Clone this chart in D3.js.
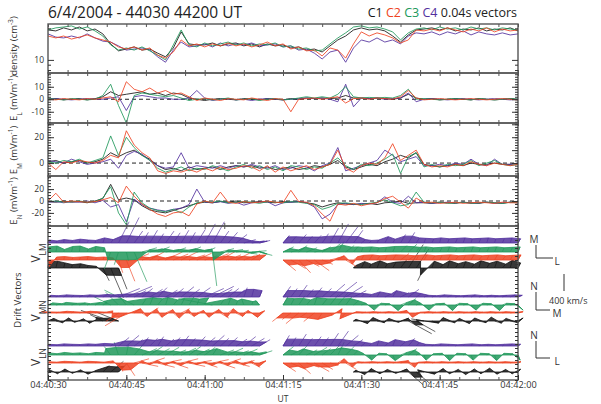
<!DOCTYPE html>
<html>
<head>
<meta charset="utf-8">
<script src="https://cdn.jsdelivr.net/npm/d3@7"></script>
<style>
  body { margin: 0; background: #fff; }
  svg { display: block; font-family: "Open Sans", sans-serif; }
</style>
</head>
<body>
<svg id="chart" width="601" height="404"></svg>
<script>
// seconds after 04:40:30 UT
const timeSec = [0,1.5,3,4.5,6,7.5,9,10.5,12,13.5,15,16.5,18,19.5,21,22.5,24,25.5,27,28.5,30,31.5,33,34.5,36,37.5,39,40.5,42,43.5,45,46.5,48,49.5,51,52.5,54,55.5,57,58.5,60,61.5,63,64.5,66,67.5,69,70.5,72,73.5,75,76.5,78,79.5,81,82.5,84,85.5,87,88.5,90];
const tickSec = [0, 15, 30, 45, 60, 75, 90];
const tickLabels = ['04:40:30', '04:40:45', '04:41:00', '04:41:15', '04:41:30', '04:41:45', '04:42:00'];

// density (cm^-3)
const densC1 = [19.3,18.9,20.2,19.3,20.6,18.9,19.7,17.7,14.2,12.2, 12.7,13.3,12.4,12.7,11.6,10.7,13.0,18.5,14.2,13.9, 13.9,14.5,13.6,14.2,14.5,13.6,14.2,13.3,14.2,13.6, 13.9,13.0,13.3,12.4,12.7,11.9,13.6,15.5,16.9,19.3, 20.2,19.3,19.7,18.9,16.9,14.8,17.3,19.3,19.7,20.2, 19.3,20.2,18.9,19.7,19.3,20.2,18.9,19.7,19.3,20.2, 18.9];
const densC2 = [16.9,16.2,16.9,15.8,16.5,17.3,16.2,15.5,14.8,13.3, 12.7,13.3,12.4,13.0,11.1,10.4,11.9,15.5,13.6,14.2, 13.3,14.2,13.6,14.5,13.6,14.2,13.3,13.9,14.8,13.6, 14.2,12.7,13.3,12.2,12.4,10.9,13.0,12.4,10.4,14.2, 18.5,16.9,18.1,17.3,16.2,14.5,15.5,19.3,18.9,19.7, 18.9,20.2,19.3,18.5,19.7,18.9,20.2,18.5,19.7,18.9, 19.3];
const densC3 = [19.3,20.2,20.6,21.1,19.7,20.6,18.9,16.9,13.9,12.4, 13.0,12.4,13.3,12.2,11.1,10.0,13.9,19.3,13.9,13.3, 14.5,13.6,14.2,14.8,13.9,14.5,13.6,14.2,13.9,14.5, 13.3,13.6,12.7,13.0,12.2,12.4,14.2,16.2,18.1,20.6, 21.1,20.2,20.6,19.7,18.5,15.5,18.1,19.7,20.2,19.3, 20.6,19.7,20.2,19.3,20.6,19.7,20.2,19.3,20.2,19.7, 19.3];
const densC4 = [17.7,16.5,16.2,16.9,16.2,17.7,16.2,15.1,14.8,13.6, 12.4,12.7,13.0,12.4,10.7,9.5,12.4,14.8,13.3,13.6, 14.2,13.3,14.5,13.6,14.2,13.9,14.5,13.6,13.9,14.2, 13.3,13.6,12.4,12.7,11.6,10.2,11.9,12.4,9.5,13.0, 15.5,14.8,16.2,14.8,15.5,14.2,16.9,18.1,17.7,18.5, 17.3,18.5,17.7,18.9,17.3,18.5,17.7,17.3,18.1,17.3, 17.7];

// E_L (mV/m)
const elC1 = [0,0.5,-0.5,0,0.5,-0.5,0.5,2,6,3, 4,5,6,4,5,3,5,4,1,0, -1,0,0.5,0,-0.5,0.5,0,-0.5,0.5,0, -0.5,0.5,0,1,0.5,1,0.5,1,3,1, 1,0.5,1,0.5,0,1,4,1,0,0.5, -0.5,0,0.5,0,-0.5,0.5,0,-0.5,0,0.5, 0];
const elC2 = [0,-0.5,0.5,0,-0.5,0.5,0,1,2,-2, 14,8,6,9,5,7,4,5,2,-1, 1,0,-1,0.5,0,-0.5,1,0,-1,0.5, 0,-10,0,0.5,1,0,1,2,-3,0.5, 1,0,1,0.5,0,2,7,1,-0.5,0, 0.5,0,-0.5,0,0.5,0,-0.5,0,0.5,0, -0.5];
const elC3 = [0.5,0,-0.5,0.5,0,-0.5,0,3,12,-5, -19,3,5,4,3,2,3,1,-1,0, 0.5,-0.5,0,1,-0.5,0,0.5,-1,0,0.5, -0.5,0,1,2,1,2,1,4,10,2, 1,1.5,1,1.5,1,3,8,0,0.5,0, -0.5,0,0.5,0,-0.5,0.5,0,-0.5,0,0.5, 0];
const elC4 = [0,0.5,0,-0.5,0,0.5,0,0,1,2, -9,2,3,2,1,1,0,0,1,7, 1,-1,0,0.5,-0.5,0,-1,0,0.5,0, -0.5,0,0.5,1,0.5,1,0,-2,12,-6, 1,0.5,1,0,0.5,1,5,-2,0,0.5, 0,-0.5,0,0.5,0,-0.5,0,0.5,0,-0.5, 0];

// E_M (mV/m)
const emC1 = [1,2,0,1,2,0,1,3,8,5, 8,10,6,3,-2,-5,-4,-6,-3,-5, -4,-3,-5,-3,-2,-3,-2,-4,-3,-5, -4,-3,-5,-4,-2,-3,-1,2,-3,-5, -3,-1,-2,1,3,6,4,8,-1,-2, -3,-2,-1,-2,0,-1,-1,0,-1,-1, 0];
const emC2 = [0,-5,1,0,2,1,0,2,6,4, 25,14,8,4,-6,-8,-6,-7,-5,-7, -4,-6,-3,-5,-4,-2,-3,-6,-2,-7, -3,-6,-4,-2,-5,-3,-1,10,-4,-7, -2,0,-1,4,15,2,6,10,-1,-3, -2,-3,-1,-2,1,-1,-2,0,-1,-2, -1];
const emC3 = [1,0,2,1,3,0,2,4,21,6, 20,12,6,2,-4,-7,-5,-3,-6,-4, -5,-2,-4,-6,-3,-1,-4,-2,-5,-3, -6,-2,-3,-5,-3,-4,0,4,-2,-5, -1,-2,0,3,7,-8,5,8,-3,-1, -3,-1,-2,-1,2,-2,0,2,-1,-2, -1];
const emC4 = [2,1,0,3,1,-1,0,1,3,-4, 6,9,7,2,-2,-4,-3,8,-4,-2, -3,-4,-2,-4,-2,-3,-1,-3,-4,-2, -5,-4,-2,-3,-6,-2,0,12,-6,-4, -2,0,2,10,6,1,3,5,-2,-2, -1,-2,0,-1,3,-1,-2,3,-1,-1, 0];

// E_N (mV/m)
const enC1 = [-1,-2,0,-2,-1,-3,0,4,28,2, 5,2,-8,-15,-18,-20,-16,-12,-8,-4, -2,-3,-1,-2,0,-3,-2,-1,-2,-3, -1,-2,-1,-3,-5,-10,-6,-3,-5,-6, -5,-4,-6,-3,-2,0,-4,-3,-3,-4, -2,-3,-4,-2,-3,-4,-2,-3,-4,-2, -3];
const enC2 = [0,13,-2,0,-1,-2,-1,2,6,-3, 25,8,-5,-14,-22,-26,-20,-18,-25,-5, 0,-3,15,-2,-4,-1,-3,-2,0,-2, -3,18,-1,-2,-8,-22,-34,-5,-7,-4, -8,-5,-3,4,8,-2,-12,5,-3,-2, -4,-3,-2,-4,-3,-2,-3,-4,-2,-3, -3];
const enC3 = [-1,0,-2,-1,0,-2,-1,5,24,-20, -40,15,-3,-12,-16,-18,-14,-20,-10,-3, -1,-2,0,-3,-2,-1,-2,-4,-1,-2, -3,-1,-2,-4,-6,-14,-10,-4,-3,-5, -6,-4,-2,2,-3,-8,-6,15,-2,-3, -2,-4,-3,-2,-4,-3,-2,-3,-4,-2, -3];
const enC4 = [-2,-1,-3,-1,-2,0,-3,1,-10,-6, -35,3,-6,-12,-15,-17,-14,-12,-6,20, -2,-3,-1,-4,-2,-7,-3,-2,-1,-8, -3,-2,-1,-3,-10,-30,-22,-6,-4,-6, -4,-5,-3,7,-2,-4,8,-3,-2,-4, -3,-2,-3,-2,-4,-3,-2,-4,-3,-2, -3];

// drift velocity components (km/s), null = no data
const vlC1 = [20,40,30,20,30,20,30,150,300,200, null,null,null,null,null,null,null,null,null,null, null,null,null,null,null,null,null,null,null,null, null,null,null,null,null,null,null,null,null,60, 80,50,70,60,80,150,350,300,-150,60, 80,50,70,60,80,50,70,60,80,50, 60];
const vmC1 = [140,160,120,80,100,60,40,-300,-700,-500, null,null,null,null,null,null,null,null,null,null, null,null,null,null,null,null,null,null,null,null, null,null,null,null,null,null,null,null,null,60, 150,90,170,100,140,200,550,450,-300,160, 80,170,100,150,90,170,110,160,90,180, 120];
const vnC1 = [60,-40,70,-30,50,-50,40,150,250,200, null,null,null,null,null,null,null,null,null,null, null,null,null,null,null,null,null,null,null,null, null,null,null,null,null,null,null,null,null,40, -60,80,-40,60,-30,70,-300,-250,50,-50, 80,-40,60,-60,70,-40,90,-50,60,-40, 70];

const vlC2 = [30,20,20,40,30,20,40,30,60,100, 200,350,380,350,400,380,350,400,380,350, 300,380,350,300,320,250,200,150,null,null, 300,350,280,300,350,250,200,150,250,100, 60,80,70,60,80,200,150,60,70,80, 60,70,80,60,70,80,60,70,80,60, 70];
const vmC2 = [-150,70,80,60,70,80,60,70,50,-300, -500,150,120,200,100,180,140,200,120,160, 100,150,200,120,160,100,140,120,null,null, -250,-200,-300,-150,-250,-100,50,100,-150,80, 110,120,100,110,120,150,100,110,120,100, 110,120,100,110,120,100,110,120,100,110, 120];
const vnC2 = [30,20,40,30,20,40,30,20,50,-200, -300,100,-80,120,-100,80,-120,100,-80,60, -100,80,-120,100,-80,60,-100,50,null,null, -200,-150,-250,-100,-200,-150,-50,100,-150,30, 20,30,20,30,20,60,-100,20,30,20, 30,20,30,20,30,20,30,20,30,20, 30];

const vlC3 = [20,30,20,30,20,30,20,40,-150,-100, 50,300,350,300,280,320,300,350,280,300, 250,100,320,350,300,320,350,300,null,null, 250,300,200,250,300,200,250,150,200,100, 40,60,50,40,60,150,200,80,50,40, 60,50,40,60,50,40,60,50,40,60, 50];
const vmC3 = [120,140,60,130,140,70,130,100,-400,-300, -200,-700,100,80,120,60,100,80,120,60, 100,-800,80,60,40,-50,30,-80,null,null, 120,80,150,100,60,120,200,250,150,120, 110,120,100,110,130,150,180,110,120,100, 110,120,100,110,120,100,110,120,100,110, 120];
const vnC3 = [50,30,60,40,50,30,60,50,200,300, 250,350,150,200,150,180,120,160,200,140, 180,150,120,160,100,140,80,100,null,null, 200,150,220,120,180,150,250,300,200,100, 40,-120,40,30,-130,60,150,40,-120,30, 40,-130,40,30,-120,40,30,-130,40,30, -120];

const vlC4 = [20,30,10,25,20,30,15,40,60,250, 300,200,150,180,140,200,160,180,150,200, 250,280,200,220,260,280,300,250,null,null, 150,120,180,140,160,150,200,250,300,220, 100,60,40,80,60,120,150,80,40,50, 30,40,50,40,30,50,40,30,50,40, 60];
const vmC4 = [70,50,80,60,90,70,60,120,80,500, 600,280,250,300,220,280,240,300,250,320, 450,500,280,250,200,80,50,60,null,null, 180,150,200,160,180,220,350,450,400,300, 80,60,70,150,90,200,250,120,110,100, 120,100,110,120,100,110,120,100,110,120, 100];
const vnC4 = [40,30,50,40,35,50,40,60,50,200, 250,150,200,180,220,160,200,240,180,220, 200,250,180,200,160,220,180,150,null,null, 250,200,280,180,220,200,300,350,250,150, 80,60,120,70,150,100,180,80,40,30, 50,40,30,40,50,30,40,30,40,50, 40];

const crafts = [
    { id: 'C1', color: '#151515', dens: densC1, el: elC1, em: emC1, en: enC1, L: vlC1, M: vmC1, N: vnC1 },
    { id: 'C2', color: '#ee4322', dens: densC2, el: elC2, em: emC2, en: enC2, L: vlC2, M: vmC2, N: vnC2 },
    { id: 'C3', color: '#20985a', dens: densC3, el: elC3, em: emC3, en: enC3, L: vlC3, M: vmC3, N: vnC3 },
    { id: 'C4', color: '#52309e', dens: densC4, el: elC4, em: emC4, en: enC4, L: vlC4, M: vmC4, N: vnC4 }
];

const svg = d3.select('#chart');
const x = d3.scaleLinear().domain([0, 90]).range([48, 518]);
const xMinor = d3.range(0, 90.01, 3.75);
const frameColor = '#555';

// panel scales
const yDens = d3.scaleLog().domain([7.5, 22]).range([73, 24]);
const yEL = d3.scaleLinear().domain([-19, 21]).range([123, 73]);
const yEM = d3.scaleLinear().domain([-10, 31]).range([176, 123]);
const yEN = d3.scaleLinear().domain([-42, 42]).range([226, 176]);
const yVec = d3.scaleLinear().domain([0, 154]).range([380, 226]);
const vpx = d3.scaleLinear().domain([0, 400]).range([0, 17]);
const envMax = 8; // envelope fill is capped, long sticks stay as thin lines

function noDomain(g) { g.select('.domain').remove(); }

function drawFrame(top, bottom) {
    const g = svg.append('g');
    g.append('g').attr('transform', `translate(0,${top})`)
        .call(d3.axisTop(x).tickValues(xMinor).tickSize(-3).tickFormat(''))
        .call(noDomain);
    g.append('g').attr('transform', `translate(0,${bottom})`)
        .call(d3.axisBottom(x).tickValues(xMinor).tickSize(-3).tickFormat(''))
        .call(noDomain);
    g.selectAll('line').attr('stroke', frameColor);
    g.append('rect')
        .attr('x', x(0)).attr('y', top)
        .attr('width', x(90) - x(0)).attr('height', bottom - top)
        .attr('fill', 'none').attr('stroke', frameColor).attr('stroke-width', 1.4);
}

function drawYTicks(scale, majors, minors, labels) {
    const g = svg.append('g');
    const fmt = d => labels.includes(d) ? String(d) : '';
    g.append('g').attr('transform', `translate(${x(0)},0)`)
        .call(d3.axisLeft(scale).tickValues(minors).tickSize(-3).tickFormat(''))
        .call(noDomain);
    g.append('g').attr('transform', `translate(${x(90)},0)`)
        .call(d3.axisRight(scale).tickValues(minors).tickSize(-3).tickFormat(''))
        .call(noDomain);
    g.append('g').attr('transform', `translate(${x(0)},0)`)
        .call(d3.axisLeft(scale).tickValues(majors).tickSize(-6).tickPadding(4).tickFormat(fmt))
        .call(noDomain);
    g.append('g').attr('transform', `translate(${x(90)},0)`)
        .call(d3.axisRight(scale).tickValues(majors).tickSize(-6).tickFormat(''))
        .call(noDomain);
    g.selectAll('line').attr('stroke', '#333');
    g.selectAll('text').attr('fill', '#333').attr('font-size', 8.5)
        .attr('font-family', '"Open Sans", sans-serif');
}

function drawSeries(scale, key, zeroLine) {
    if (zeroLine) {
        svg.append('line')
            .attr('x1', x(0)).attr('x2', x(90))
            .attr('y1', scale(0)).attr('y2', scale(0))
            .attr('stroke', '#222').attr('stroke-width', 1)
            .attr('stroke-dasharray', '4,3');
    }
    const line = d3.line()
        .defined(d => d != null)
        .x((d, i) => x(timeSec[i]))
        .y(d => scale(d));
    const order = [crafts[0], crafts[3], crafts[2], crafts[1]];
    svg.append('g').selectAll('path')
        .data(order)
        .join('path')
        .attr('d', c => line(c[key]))
        .attr('fill', 'none')
        .attr('stroke', c => c.color)
        .attr('stroke-width', 1)
        .attr('stroke-opacity', 0.85);
}

function yLabel(cx, cy, parts, size) {
    const t = svg.append('text')
        .attr('transform', `translate(${cx},${cy}) rotate(-90)`)
        .attr('text-anchor', 'middle')
        .attr('font-size', size)
        .attr('fill', '#333');
    parts.forEach(p => {
        const s = t.append('tspan').text(p.text);
        if (p.shift) s.attr('baseline-shift', p.shift).attr('font-size', size * 0.7);
    });
}

// ---- title and legend
svg.append('text')
    .attr('x', 48).attr('y', 18)
    .attr('font-size', 15.5).attr('fill', '#222')
    .text('6/4/2004 - 44030 44200 UT');

const legend = svg.append('text')
    .attr('x', 517).attr('y', 17)
    .attr('text-anchor', 'end')
    .attr('font-size', 12.5);
crafts.forEach(c => {
    legend.append('tspan').attr('fill', c.color).text(c.id + ' ');
});
legend.append('tspan').attr('fill', '#222').text(' 0.04s vectors');

// ---- density
drawSeries(yDens, 'dens', false);
drawFrame(24, 73);
drawYTicks(yDens, [10], [8, 9, 20], [10]);
yLabel(17, 46, [{ text: 'density (cm' }, { text: '-3', shift: 'super' }, { text: ')' }], 9.5);

// ---- E fields
drawSeries(yEL, 'el', true);
drawFrame(73, 123);
drawYTicks(yEL, [-10, 0, 10], d3.range(-18, 21, 2), [-10, 0, 10]);
yLabel(17, 98, [{ text: 'E' }, { text: 'L', shift: 'sub' }, { text: ' (mVm' }, { text: '-1', shift: 'super' }, { text: ')' }], 9.5);

drawSeries(yEM, 'em', true);
drawFrame(123, 176);
drawYTicks(yEM, [0, 10, 20, 30], d3.range(-10, 31, 2), [0, 20]);
yLabel(17, 150, [{ text: 'E' }, { text: 'M', shift: 'sub' }, { text: ' (mVm' }, { text: '-1', shift: 'super' }, { text: ')' }], 9.5);

drawSeries(yEN, 'en', true);
drawFrame(176, 226);
drawYTicks(yEN, [-20, 0, 20], d3.range(-40, 41, 5), [-20, 0, 20]);
yLabel(17, 201, [{ text: 'E' }, { text: 'N', shift: 'sub' }, { text: ' (mVm' }, { text: '-1', shift: 'super' }, { text: ')' }], 9.5);

// ---- drift vectors
const vecRows = [
    { name: 'LM', h: 'L', v: 'M', base: [268, 260, 252, 243], cy: 253 },
    { name: 'MN', h: 'M', v: 'N', base: [321, 313, 305, 297], cy: 311 },
    { name: 'LN', h: 'L', v: 'N', base: [372, 363, 355, 346], cy: 357 }
];

const vecG = svg.append('g');
vecRows.forEach(row => {
    crafts.forEach((c, ci) => {
        const base = row.base[ci];
        const pts = timeSec.map((t, i) => {
            if (c[row.h][i] == null) return null;
            const dx = vpx(c[row.h][i]), dy = -vpx(c[row.v][i]);
            const len = Math.hypot(dx, dy);
            const k = len > envMax ? envMax / len : 1;
            return {
                bx: x(t), by: base,
                tx: x(t) + dx, ty: base + dy,
                ex: x(t) + dx * k, ey: base + dy * k
            };
        });
        // contiguous runs -> filled envelope
        const runs = [];
        let run = [];
        pts.forEach(p => {
            if (p) run.push(p);
            else if (run.length) { runs.push(run); run = []; }
        });
        if (run.length) runs.push(run);
        const g = vecG.append('g');
        g.selectAll('path')
            .data(runs)
            .join('path')
            .attr('d', r => d3.line()(r.map(p => [p.ex, p.ey]).concat(r.slice().reverse().map(p => [p.bx, p.by]))) + 'Z')
            .attr('fill', c.color)
            .attr('fill-opacity', 0.85)
            .attr('stroke', c.color)
            .attr('stroke-width', 0.8)
            .attr('stroke-linejoin', 'round');
        g.selectAll('line')
            .data(pts.filter(Boolean))
            .join('line')
            .attr('x1', p => p.bx).attr('y1', p => p.by)
            .attr('x2', p => p.tx).attr('y2', p => p.ty)
            .attr('stroke', c.color)
            .attr('stroke-width', 1)
            .attr('stroke-opacity', 0.65);
    });
});

drawFrame(226, 380);
const vg = svg.append('g');
vg.append('g').attr('transform', `translate(${x(0)},0)`)
    .call(d3.axisLeft(yVec).tickValues(d3.range(0, 155, 4)).tickSize(-3).tickFormat(''))
    .call(noDomain);
vg.append('g').attr('transform', `translate(${x(90)},0)`)
    .call(d3.axisRight(yVec).tickValues(d3.range(0, 155, 4)).tickSize(-3).tickFormat(''))
    .call(noDomain);
vg.selectAll('line').attr('stroke', '#333');

// x axis labels
svg.append('g')
    .attr('transform', 'translate(0,380)')
    .call(d3.axisBottom(x).tickValues(tickSec).tickSize(-5).tickPadding(1)
        .tickFormat((d, i) => tickLabels[i]))
    .call(noDomain)
    .call(g => g.selectAll('text').attr('font-size', 9.2).attr('fill', '#333')
        .attr('font-family', '"Open Sans", sans-serif'))
    .call(g => g.selectAll('line').attr('stroke', '#333'));
svg.append('text').attr('x', x(45)).attr('y', 401.5)
    .attr('text-anchor', 'middle').attr('font-size', 8.5).attr('fill', '#333').text('UT');

// left labels
yLabel(21, 300, [{ text: 'Drift Vectors' }], 9.5);
vecRows.forEach(row => {
    yLabel(40, row.cy, [{ text: 'V' }, { text: row.name, shift: 'sub' }], 12);
});

// right: component axes and scale bar
const keyG = svg.append('g').attr('stroke', '#333').attr('stroke-width', 1).attr('fill', 'none');
const keys = [
    { up: 'M', right: 'L', top: 245, corner: 258, len: 17 },
    { up: 'N', right: 'M', top: 292, corner: 310, len: 14 },
    { up: 'N', right: 'L', top: 341, corner: 358, len: 14 }
];
keys.forEach(k => {
    keyG.append('path').attr('d', `M536,${k.top}V${k.corner}H${536 + k.len}`);
    svg.append('text').attr('x', 534).attr('y', k.top - 2)
        .attr('text-anchor', 'middle').attr('font-size', 10).attr('fill', '#333').text(k.up);
    svg.append('text').attr('x', 557).attr('y', k.corner + 7)
        .attr('text-anchor', 'middle').attr('font-size', 10).attr('fill', '#333').text(k.right);
});
keyG.append('line').attr('x1', 564).attr('x2', 564)
    .attr('y1', 274).attr('y2', 274 + vpx(400));
svg.append('text').attr('x', 549).attr('y', 304)
    .attr('font-size', 9).attr('fill', '#333').text('400 km/s');
</script>
</body>
</html>
